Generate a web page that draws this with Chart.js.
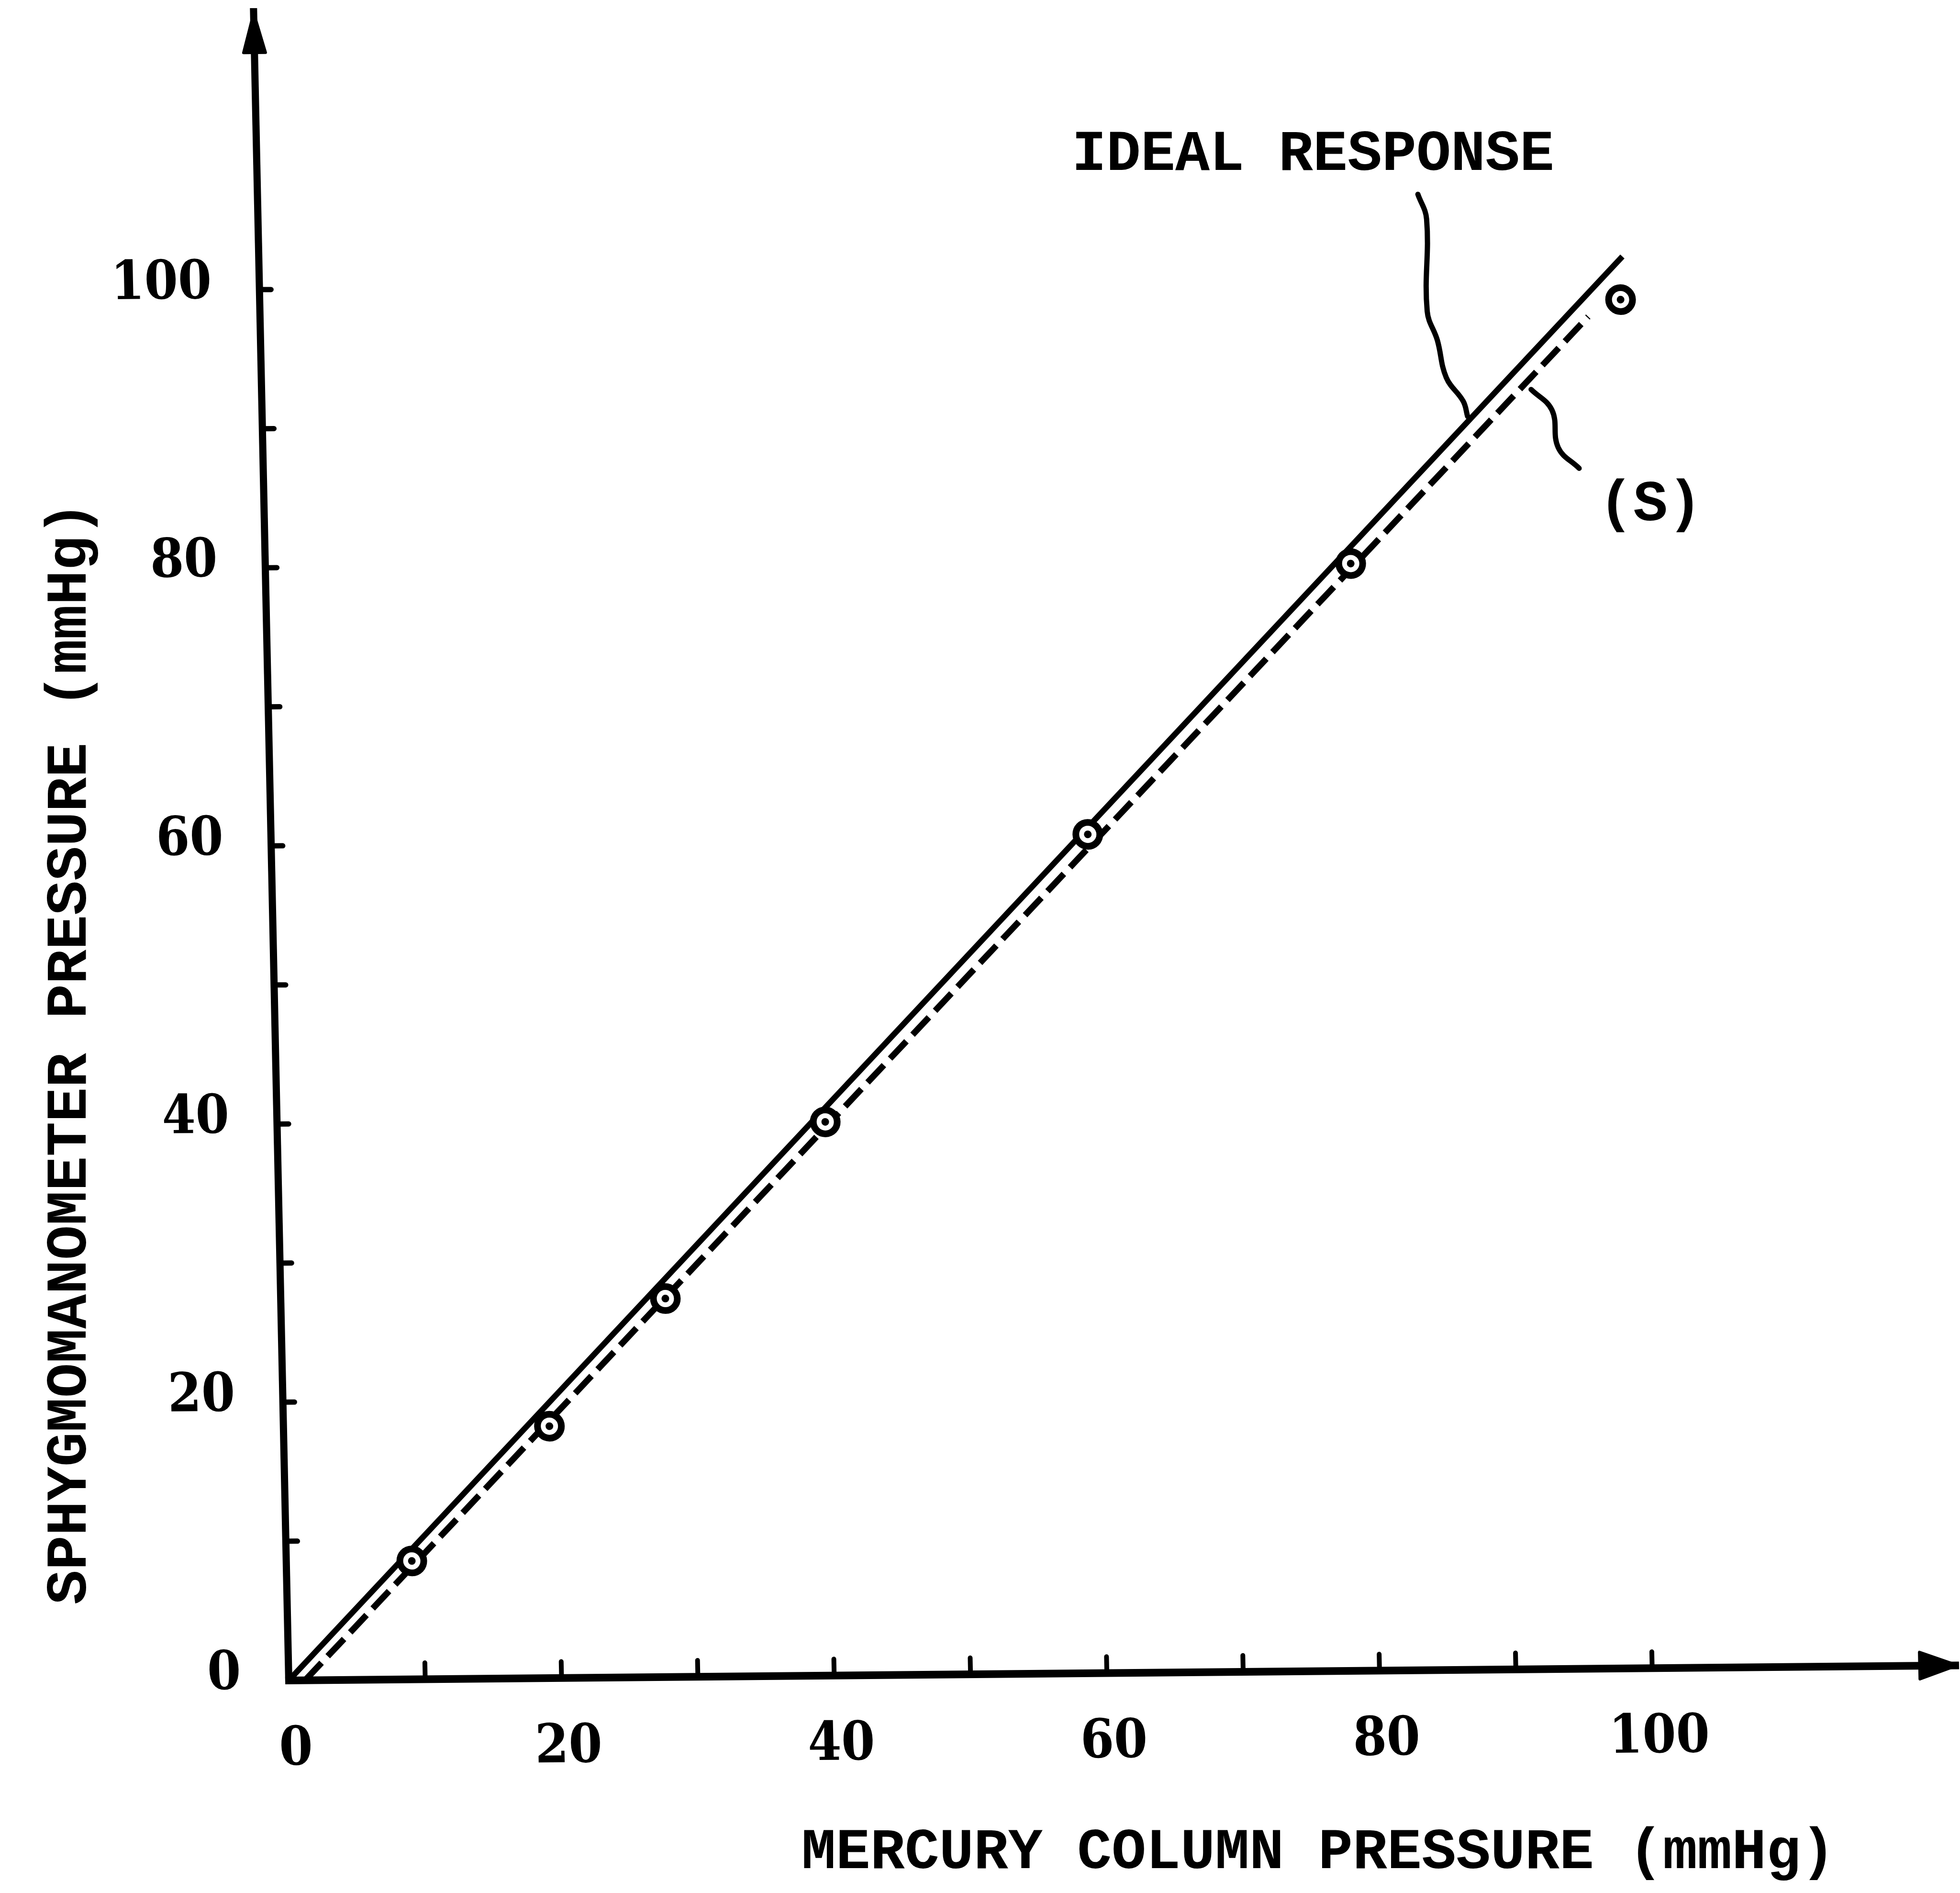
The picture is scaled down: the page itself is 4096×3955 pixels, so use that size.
<!DOCTYPE html>
<html>
<head>
<meta charset="utf-8">
<title>Sphygmomanometer vs mercury column pressure</title>
<script src="https://cdn.jsdelivr.net/npm/chart.js@4.4.1/dist/chart.umd.min.js"></script>
<style>
  html, body { margin: 0; padding: 0; background: #fff; overflow: hidden; }
  #wrap { position: relative; width: 4096px; height: 3955px; }
</style>
</head>
<body>
<div id="wrap"><canvas id="chart"></canvas></div>
<script>
// Readings taken off the figure (mmHg)
const MERCURY = [9.2, 19.5, 28.2, 40.2, 59.9, 79.6, 99.8];
const SPHYG   = [8.5, 18.1, 27.2, 39.8, 60.3, 79.6, 98.4];

const IDEAL_X = [0, 100];
const IDEAL_Y = [0, 101.5];
const S_X = [1.2, 97.4];
const S_Y = [0, 97.2];

// hand-drawn leader strokes, in data units
const LEAD_IDEAL_X = [85.1, 85.7, 85.6, 86.3, 86.9, 88.1, 88.4];
const LEAD_IDEAL_Y = [106.1, 104.3, 97.7, 95.6, 92.9, 91.2, 90.1];
const LEAD_S_X = [93.1, 94.6, 95.0, 96.5];
const LEAD_S_Y = [92.0, 90.5, 87.8, 86.3];

const TICK_LABELS = [0, 20, 40, 60, 80, 100];
const TICK_MARKS = [10, 20, 30, 40, 50, 60, 70, 80, 90, 100];

const X_TITLE = 'MERCURY COLUMN PRESSURE (mmHg)';
const Y_TITLE = 'SPHYGMOMANOMETER PRESSURE (mmHg)';
const IDEAL_LABEL = 'IDEAL RESPONSE';
const S_LABEL = '(S)';

const INK = '#000000';
const TYPE_FONT = 'bold 120px "Liberation Mono"';
const TICK_FONT = { family: "'DejaVu Serif Condensed', 'DejaVu Serif'", size: 112, weight: 'bold' };

// the scanned axes lean a little: y axis tips left, x axis rises to the right
const SHEAR_X = 0.0211;
const SHEAR_Y = -0.009;

const zip = (xs, ys) => xs.map((x, i) => ({ x, y: ys[i] }));

const paper = {
  id: 'paper',
  beforeDraw(chart) {
    const { ctx, width, height, chartArea: a } = chart;
    ctx.save();
    ctx.fillStyle = '#fff';
    ctx.fillRect(0, 0, width, height);
    ctx.setTransform(1, SHEAR_Y, SHEAR_X, 1, -SHEAR_X * a.bottom, -SHEAR_Y * a.left);
  },
  afterDraw(chart) {
    const { ctx, chartArea: a, scales: { x, y } } = chart;
    ctx.fillStyle = INK;
    ctx.strokeStyle = INK;
    ctx.lineCap = 'round';

    // inward tick marks
    ctx.lineWidth = 10;
    ctx.beginPath();
    TICK_MARKS.forEach(v => {
      const px = x.getPixelForValue(v);
      ctx.moveTo(px, a.bottom);
      ctx.lineTo(px, a.bottom - 34);
    });
    ctx.stroke();
    ctx.lineWidth = 11;
    ctx.beginPath();
    TICK_MARKS.forEach(v => {
      const py = y.getPixelForValue(v);
      ctx.moveTo(a.left, py);
      ctx.lineTo(a.left + 24, py);
    });
    ctx.stroke();

    // arrow heads
    ctx.lineJoin = 'round';
    ctx.lineWidth = 6;
    ctx.beginPath();
    ctx.moveTo(a.left, a.top + 3);
    ctx.lineTo(a.left - 23, a.top + 86);
    ctx.lineTo(a.left + 23, a.top + 86);
    ctx.closePath();
    ctx.fill();
    ctx.stroke();
    ctx.beginPath();
    ctx.moveTo(a.right - 3, a.bottom);
    ctx.lineTo(a.right - 82, a.bottom - 28);
    ctx.lineTo(a.right - 82, a.bottom + 28);
    ctx.closePath();
    ctx.fill();
    ctx.stroke();
    ctx.restore();

    // typed labels
    ctx.save();
    ctx.fillStyle = INK;
    ctx.font = TYPE_FONT;
    ctx.textAlign = 'center';
    ctx.textBaseline = 'middle';
    ctx.fillText(IDEAL_LABEL, 2744, 325);
    ctx.fillText(S_LABEL, 3449, 1057);
    ctx.fillText(X_TITLE, 2755, 3873);
    ctx.translate(149, 2200);
    ctx.rotate(-Math.PI / 2);
    ctx.fillText(Y_TITLE, 0, 0);
    ctx.restore();
  }
};

new Chart(document.getElementById('chart'), {
  type: 'line',
  data: {
    datasets: [
      {
        label: 'centre dots',
        data: zip(MERCURY, SPHYG),
        showLine: false,
        pointRadius: 8,
        pointBackgroundColor: INK,
        pointBorderWidth: 0,
        order: 0,
      },
      {
        label: 'readings',
        data: zip(MERCURY, SPHYG),
        showLine: false,
        pointRadius: 25,
        pointBackgroundColor: '#fff',
        pointBorderColor: INK,
        pointBorderWidth: 14,
        order: 1,
      },
      {
        label: 'Ideal response',
        data: zip(IDEAL_X, IDEAL_Y),
        borderColor: INK,
        borderWidth: 12,
        pointRadius: 0,
        order: 2,
      },
      {
        label: '(S)',
        data: zip(S_X, S_Y),
        borderColor: INK,
        borderWidth: 13,
        borderDash: [50, 19],
        pointRadius: 0,
        order: 3,
      },
      {
        label: 'leader ideal',
        data: zip(LEAD_IDEAL_X, LEAD_IDEAL_Y),
        borderColor: INK,
        borderWidth: 11,
        borderCapStyle: 'round',
        tension: 0.4,
        pointRadius: 0,
        order: 4,
      },
      {
        label: 'leader S',
        data: zip(LEAD_S_X, LEAD_S_Y),
        borderColor: INK,
        borderWidth: 11,
        borderCapStyle: 'round',
        tension: 0.4,
        pointRadius: 0,
        order: 5,
      },
    ],
  },
  options: {
    responsive: true,
    maintainAspectRatio: false,
    animation: false,
    devicePixelRatio: 1,
    events: [],
    clip: false,
    layout: { autoPadding: false, padding: { top: 24, right: 2.3, left: 0, bottom: 0 } },
    plugins: { legend: { display: false }, tooltip: { enabled: false } },
    scales: {
      x: {
        type: 'linear',
        min: 0,
        max: 122.5,
        grid: { display: false, drawTicks: false },
        border: { display: true, color: INK, width: 16 },
        afterBuildTicks: (s) => { s.ticks = TICK_LABELS.map(v => ({ value: v })); },
        afterFit: (s) => { s.height = 444.4; s.paddingLeft = 0; s.paddingRight = 0; },
        ticks: { color: INK, font: TICK_FONT, padding: 80, labelOffset: 12, maxRotation: 0, autoSkip: false },
      },
      y: {
        type: 'linear',
        min: 0,
        max: 120,
        grid: { display: false, drawTicks: false },
        border: { display: true, color: INK, width: 15 },
        afterBuildTicks: (s) => { s.ticks = TICK_LABELS.map(v => ({ value: v })); },
        afterFit: (s) => { s.width = 603.7; s.paddingTop = 0; s.paddingBottom = 0; },
        ticks: { color: INK, font: TICK_FONT, padding: 100, labelOffset: -12, autoSkip: false },
      },
    },
  },
  plugins: [paper],
});
</script>
</body>
</html>
